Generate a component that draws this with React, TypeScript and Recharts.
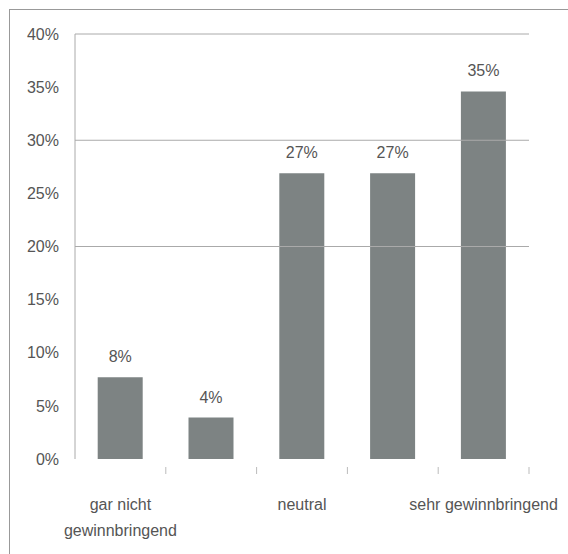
import { BarChart, Bar, XAxis, YAxis, ReferenceLine, LabelList } from 'recharts';

const categories = ['gar nicht gewinnbringend', 'stufe 2', 'neutral', 'stufe 4', 'sehr gewinnbringend'];
const tickLines = [['gar nicht', 'gewinnbringend'], [], ['neutral'], [], ['sehr gewinnbringend']];
const values = [0.077, 0.039, 0.269, 0.269, 0.346];
const yTicks = [0, 0.05, 0.1, 0.15, 0.2, 0.25, 0.3, 0.35, 0.4];
const gridValues = [0.2, 0.3, 0.4];

const data = categories.map((c, i) => ({ name: c, value: values[i] }));

const W = 568;
const H = 554;
const LEFT = 75;
const RIGHT = 39;
const BAND = (W - LEFT - RIGHT) / categories.length;
const FONT = '"Liberation Sans", Arial, sans-serif';
const TEXT = '#555';

const pct = (v: number) => `${Math.round(v * 100)}%`;

function XTick(props: any) {
  const { x, y, index } = props;
  const lines = tickLines[index] || [];
  const left = x - BAND / 2;
  return (
    <g>
      {index > 0 && <line x1={left} x2={left} y1={y} y2={y + 7} stroke="#bbb" />}
      {index === categories.length - 1 && (
        <line x1={x + BAND / 2} x2={x + BAND / 2} y1={y} y2={y + 7} stroke="#bbb" />
      )}
      {lines.map((l: string, i: number) => (
        <text key={i} x={x} y={y + 43 + i * 26} textAnchor="middle" fill={TEXT} fontSize={16} fontFamily={FONT}>
          {l}
        </text>
      ))}
    </g>
  );
}

export default function App() {
  return (
    <div style={{ position: 'absolute', left: 0, top: 0, width: W, height: H, background: '#fff' }}>
      <div style={{ position: 'absolute', left: 9, top: 9, width: W - 9, height: H - 9, borderLeft: '1px solid #999', borderTop: '1px solid #999' }} />
      <BarChart width={W} height={H} data={data} margin={{ top: 34, right: RIGHT, bottom: 0, left: 0 }} barCategoryGap="25%">
        {gridValues.map((g) => (
          <ReferenceLine key={g} y={g} stroke="#aaa" />
        ))}
        <XAxis dataKey="name" height={95} axisLine={false} tickLine={false} interval={0} tick={<XTick />} />
        <YAxis
          width={LEFT}
          domain={[0, 0.4]}
          ticks={yTicks}
          tickFormatter={pct}
          tickLine={false}
          tickSize={0}
          tickMargin={16}
          axisLine={{ stroke: '#aaa' }}
          tick={{ fill: TEXT, fontSize: 16, fontFamily: FONT }}
        />
        <Bar dataKey="value" fill="#7d8383" isAnimationActive={false}>
          <LabelList dataKey="value" position="top" offset={15} formatter={(v: any) => pct(Number(v))} fill={TEXT} fontSize={16} fontFamily={FONT} />
        </Bar>
      </BarChart>
    </div>
  );
}
